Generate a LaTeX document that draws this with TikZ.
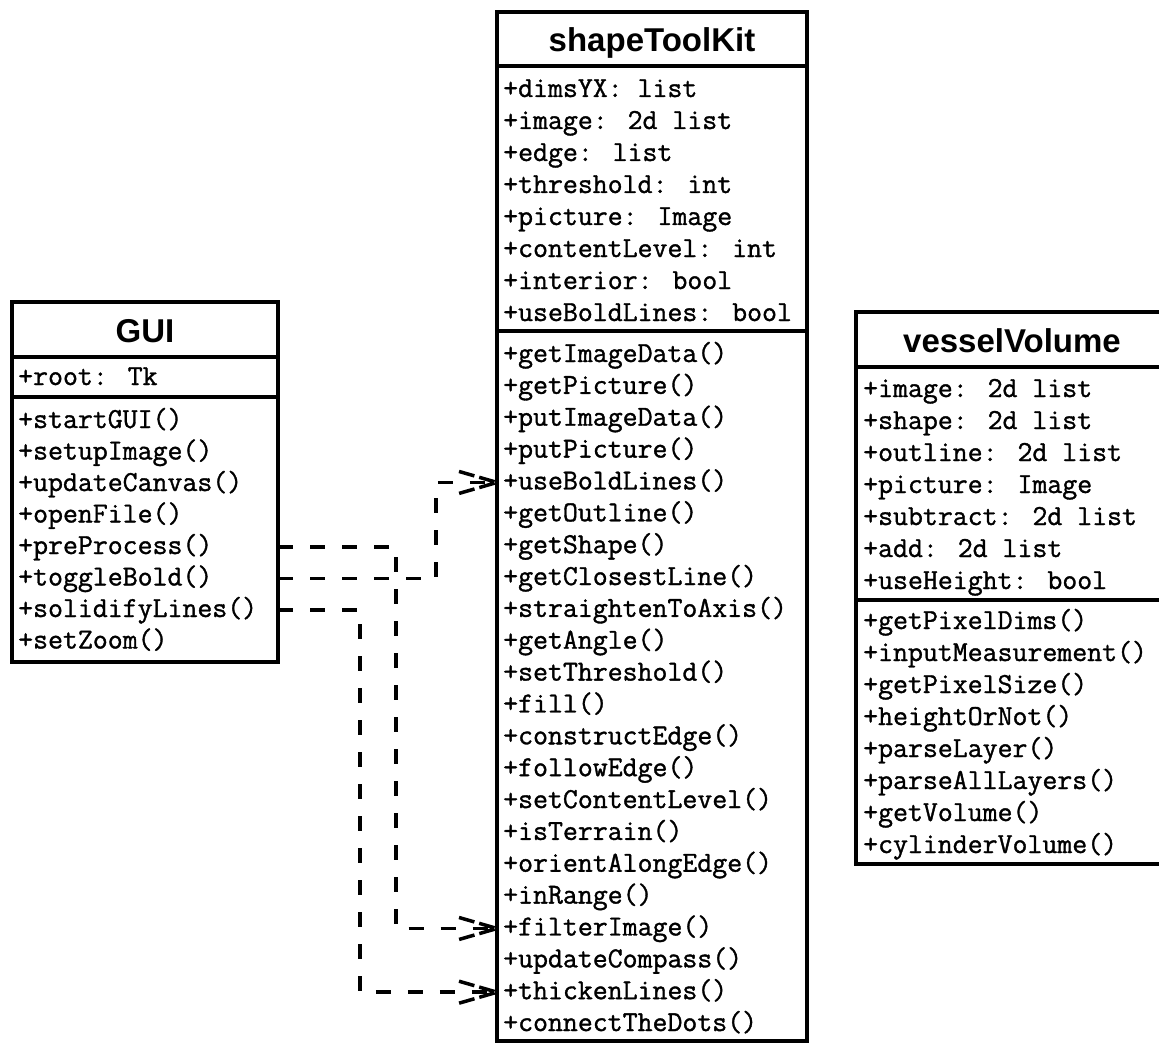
\documentclass[tikz,border=0pt]{standalone}
\usepackage{fontspec}
\newfontfamily\titlefont{Liberation Sans}
\newfontfamily\memfont[FakeBold=1.2]{Latin Modern Mono}
\usetikzlibrary{calc}
\begin{document}
\begin{tikzpicture}[x=1pt,y=-1pt,
  classbox/.style={draw, line width=3.5pt, anchor=north west, inner sep=0pt, outer sep=0pt},
  sepline/.style={line width=3.5pt},
  ttl/.style={font=\titlefont\bfseries\fontsize{33}{36}\selectfont, anchor=base, inner sep=0pt},
  mem/.style={font=\memfont\fontsize{29}{32}\selectfont, anchor=west, inner sep=0pt, text height=18pt, text depth=4pt},
  dep/.style={line width=3.5pt, dash pattern=on 15pt off 17pt},
  barb/.style={line width=3.5pt, dash pattern=on 16pt off 5pt, line join=round}]
\useasboundingbox (0,0) rectangle (1159,1043);
\clip (0,0) rectangle (1159,1043);
\fill[white] (0,0) rectangle (1159,1043);

% ---------- GUI ----------
\node[classbox, minimum width=266pt, minimum height=360pt] (gui) at (12,302) {};
\draw[sepline] (12,357) -- (278,357);
\draw[sepline] (12,397) -- (278,397);
\node[ttl] (guiT) at (145,342) {GUI};
\node[mem] (ga0) at (18,378) {+root: Tk};
\foreach \t [count=\i from 0] in {startGUI,setupImage,updateCanvas,openFile,preProcess,toggleBold,solidifyLines,setZoom}
  \node[mem] (gm\i) at (18,{421+31.5*\i}) {+\t()};

% ---------- shapeToolKit ----------
\node[classbox, minimum width=310pt, minimum height=1029pt] (tk) at (497,12) {};
\draw[sepline] (497,66) -- (807,66);
\draw[sepline] (497,331) -- (807,331);
\node[ttl] (tkT) at (652,52) {shapeToolKit};
\foreach \t [count=\i from 0] in {dimsYX: list,image: 2d list,edge: list,threshold: int,picture: Image,contentLevel: int,interior: bool,useBoldLines: bool}
  \node[mem] (ta\i) at (503,{90+32*\i}) {+\t};
\foreach \t [count=\i from 0] in {getImageData,getPicture,putImageData,putPicture,useBoldLines,getOutline,getShape,getClosestLine,straightenToAxis,getAngle,setThreshold,fill,constructEdge,followEdge,setContentLevel,isTerrain,orientAlongEdge,inRange,filterImage,updateCompass,thickenLines,connectTheDots}
  \node[mem] (tm\i) at (503,{355+31.86*\i}) {+\t()};

% ---------- vesselVolume ----------
\node[classbox, minimum width=313pt, minimum height=552pt] (vv) at (856,312) {};
\draw[sepline] (856,367) -- (1169,367);
\draw[sepline] (856,600) -- (1169,600);
\node[ttl] (vvT) at (1012,352) {vesselVolume};
\foreach \t [count=\i from 0] in {image: 2d list,shape: 2d list,outline: 2d list,picture: Image,subtract: 2d list,add: 2d list,useHeight: bool}
  \node[mem] (va\i) at (863,{390+32*\i}) {+\t};
\foreach \t [count=\i from 0] in {getPixelDims,inputMeasurement,getPixelSize,heightOrNot,parseLayer,parseAllLayers,getVolume,cylinderVolume}
  \node[mem] (vm\i) at (863,{622+32*\i}) {+\t()};

% ---------- dependencies ----------
\draw[dep] (gui.east |- gm4.west) -- ++(118,0) |- (tk.west |- tm18.west);
\draw[dep] (gui.east |- gm5.west) -- ++(158,0) |- (tk.west |- tm4.west);
\draw[dep] (gui.east |- gm6.west) -- ++(82,0) |- (tk.west |- tm20.west);
\foreach \m in {tm4,tm18,tm20}
  \draw[barb] ($(tk.west |- \m.west)+(-38,-11)$) -- (tk.west |- \m.west) -- ($(tk.west |- \m.west)+(-38,11)$);
\end{tikzpicture}
\end{document}
